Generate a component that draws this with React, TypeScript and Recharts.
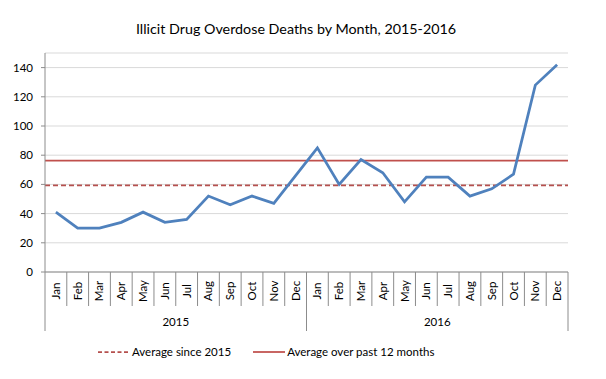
import React from 'react';
import { LineChart, Line, XAxis, YAxis, CartesianGrid, ReferenceLine } from 'recharts';

const months = ['Jan', 'Feb', 'Mar', 'Apr', 'May', 'Jun', 'Jul', 'Aug', 'Sep', 'Oct', 'Nov', 'Dec'];
const years = ['2015', '2016'];
const deaths2015 = [41, 30, 30, 34, 41, 34, 36, 52, 46, 52, 47, 66];
const deaths2016 = [85, 60, 77, 68, 48, 65, 65, 52, 57, 67, 128, 142];
const avgSince2015 = 59.3;
const avgPast12Months = 76.2;
const yTicks = [0, 20, 40, 60, 80, 100, 120, 140];

const seriesByYear = [deaths2015, deaths2016];
const data = years.flatMap((yr, i) =>
  months.map((m, j) => ({ key: `${m}-${yr}`, month: m, year: yr, deaths: seriesByYear[i][j] }))
);

const W = 606;
const H = 379;
const MARGIN = { top: 53, right: 38, bottom: 48, left: 0 };
const Y_W = 45;
const PLOT_W = W - MARGIN.left - MARGIN.right - Y_W;
const FONT = 'Lato, "Open Sans", sans-serif';
const AXIS_COLOR = '#8c8c8c';
const BLUE = '#4f81bd';
const RED = '#c0504d';
const RED_DASH = '#b5504e';

const MONTH_H = 34;
const YEAR_H = 25;

const MonthTick = (props: any) => {
  const { x, y, payload, index } = props;
  const bw = PLOT_W / data.length;
  const label = String(payload.value).split('-')[0];
  return (
    <g>
      <line x1={x - bw / 2} x2={x - bw / 2} y1={y} y2={y + MONTH_H} stroke={AXIS_COLOR} strokeWidth={1} />
      {index === data.length - 1 && (
        <line x1={x + bw / 2} x2={x + bw / 2} y1={y} y2={y + MONTH_H} stroke={AXIS_COLOR} strokeWidth={1} />
      )}
      <text
        x={0}
        y={0}
        transform={`translate(${x + 4}, ${y + 19}) rotate(-90)`}
        textAnchor="middle"
        fontSize={11.5}
        fontFamily={FONT}
        fill="#000"
      >
        {label}
      </text>
    </g>
  );
};

const YearTick = (props: any) => {
  const { x, y, payload, index } = props;
  const bw = PLOT_W / years.length;
  return (
    <g>
      <line x1={x - bw / 2} x2={x - bw / 2} y1={y} y2={y + YEAR_H} stroke={AXIS_COLOR} strokeWidth={1} />
      {index === years.length - 1 && (
        <line x1={x + bw / 2} x2={x + bw / 2} y1={y} y2={y + YEAR_H} stroke={AXIS_COLOR} strokeWidth={1} />
      )}
      <text x={x} y={y + 20} textAnchor="middle" fontSize={11.5} fontFamily={FONT} fill="#000">
        {payload.value}
      </text>
    </g>
  );
};

const legendItems = [
  { label: 'Average since 2015', color: RED_DASH, dash: '4 2.5' },
  { label: 'Average over past 12 months', color: RED, dash: undefined },
];

const LegendBox = () => (
  <div
    style={{
      position: 'absolute',
      left: 98,
      top: 345,
      display: 'flex',
      alignItems: 'center',
      fontFamily: FONT,
      fontSize: 11.5,
      color: '#000',
    }}
  >
    {legendItems.map((it, i) => (
      <div key={it.label} style={{ display: 'flex', alignItems: 'center', marginRight: i === 0 ? 22 : 0 }}>
        <svg width={32} height={10} style={{ marginRight: 2 }}>
          <line x1={0} x2={32} y1={5} y2={5} stroke={it.color} strokeWidth={1.75} strokeDasharray={it.dash} />
        </svg>
        <span>{it.label}</span>
      </div>
    ))}
  </div>
);

export default function App() {
  return (
    <div style={{ position: 'absolute', left: 0, top: 0, width: W, height: H, background: '#fff' }}>
      <div
        style={{
          position: 'absolute',
          left: 0,
          top: 20,
          width: 592,
          textAlign: 'center',
          fontFamily: FONT,
          fontSize: 14.3,
          color: '#000',
        }}
      >
        Illicit Drug Overdose Deaths by Month, 2015-2016
      </div>
      <LineChart width={W} height={H} data={data} margin={MARGIN}>
        <CartesianGrid horizontal={true} vertical={false} stroke="#d9d9d9" strokeWidth={1} />
        <XAxis
          xAxisId="month"
          dataKey="key"
          scale="band"
          interval={0}
          height={MONTH_H}
          tickSize={0}
          tickMargin={0}
          tickLine={false}
          axisLine={{ stroke: AXIS_COLOR }}
          tick={<MonthTick />}
        />
        <XAxis
          xAxisId="year"
          dataKey="year"
          scale="band"
          allowDuplicatedCategory={false}
          ticks={years}
          interval={0}
          height={YEAR_H}
          tickSize={0}
          tickMargin={0}
          tickLine={false}
          axisLine={false}
          tick={<YearTick />}
        />
        <YAxis
          width={Y_W}
          domain={[0, 150]}
          ticks={yTicks}
          interval={0}
          tickSize={4}
          tickMargin={8}
          axisLine={{ stroke: AXIS_COLOR }}
          tickLine={{ stroke: AXIS_COLOR }}
          tick={{ fontSize: 11.5, fontFamily: FONT, fill: '#000' }}
        />
        <ReferenceLine xAxisId="month" y={avgSince2015} stroke={RED_DASH} strokeWidth={1.75} strokeDasharray="5 3" />
        <ReferenceLine xAxisId="month" y={avgPast12Months} stroke={RED} strokeWidth={1.75} />
        <Line
          xAxisId="month"
          type="linear"
          dataKey="deaths"
          stroke={BLUE}
          strokeWidth={2.75}
          dot={false}
          isAnimationActive={false}
        />
      </LineChart>
      <LegendBox />
    </div>
  );
}
